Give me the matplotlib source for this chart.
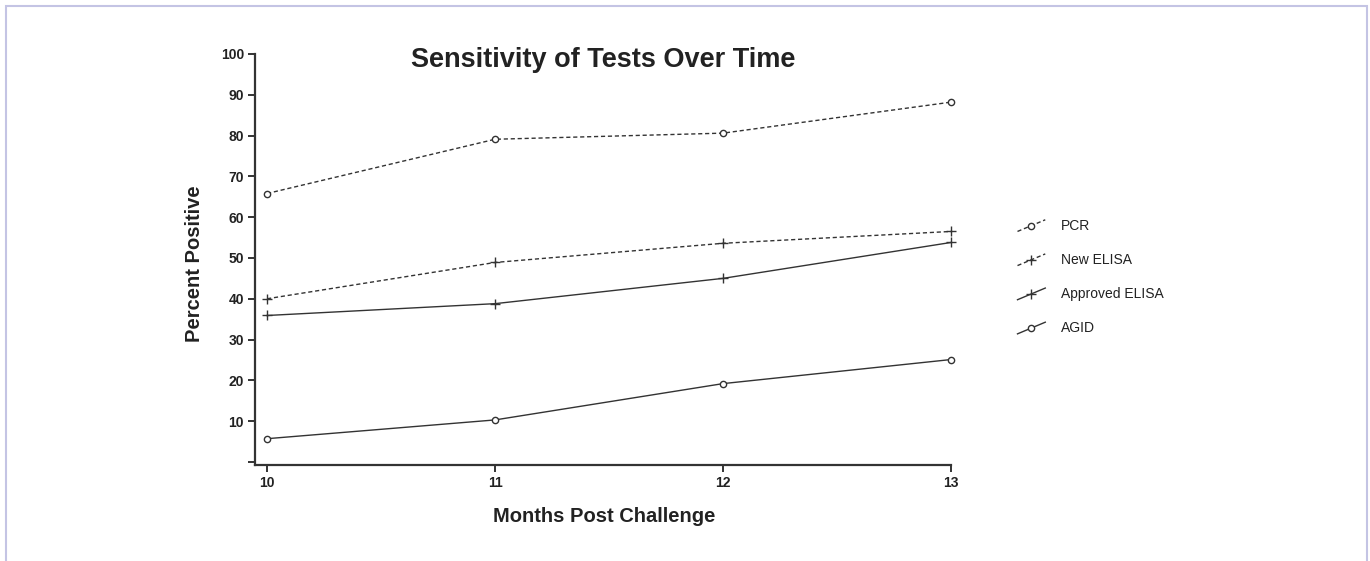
import matplotlib
matplotlib.use("Agg")
import matplotlib.pyplot as plt
from matplotlib.lines import Line2D
from matplotlib.legend_handler import HandlerLine2D
from matplotlib.patches import Rectangle

plt.rcParams['font.family'] = ['Liberation Sans', 'DejaVu Sans']

months = [10, 11, 12, 13]
pcr = [65.8, 79.1, 80.6, 88.2]
new_elisa = [40.0, 48.9, 53.6, 56.5]
approved_elisa = [35.9, 38.8, 45.0, 53.8]
agid = [5.7, 10.3, 19.2, 25.1]
series_names = ["PCR", "New ELISA", "Approved ELISA", "AGID"]
y_ticks = [0, 10, 20, 30, 40, 50, 60, 70, 80, 90, 100]
y_tick_labels = ["", "10", "20", "30", "40", "50", "60", "70", "80", "90", "100"]
x_ticks = [10, 11, 12, 13]

W, H = 1370, 561
fig = plt.figure(figsize=(W / 100, H / 100), dpi=100)
fig.patch.set_facecolor("white")

# light frame
fig.patches.append(Rectangle((6 / W, -0.05), (1367 - 6) / W, 1 - 6 / H + 0.05,
                             transform=fig.transFigure, fill=False,
                             edgecolor="#c4c4e4", linewidth=1.5, clip_on=False))

ax = fig.add_axes([255 / W, 1 - 465 / H, (951 - 255) / W, (465 - 54) / H])
col = "#333333"
styles = [
    (pcr, "--", "o"),
    (new_elisa, "--", "+"),
    (approved_elisa, "-", "+"),
    (agid, "-", "o"),
]
handles = []
for (vals, ls, mk), name in zip(styles, series_names):
    ms = 4.5 if mk == "o" else 6.5
    h, = ax.plot(months, vals, linestyle=ls, marker=mk, color=col, linewidth=1.0,
                 markersize=ms, markerfacecolor="white", markeredgecolor=col,
                 markeredgewidth=1.0, dashes=(3, 2) if ls == "--" else (None, None),
                 label=name, clip_on=False)
    handles.append(h)

ax.set_xlim(9.947, 13)
ax.set_ylim(-0.75, 100)
for s in ["top", "right"]:
    ax.spines[s].set_visible(False)
for s in ["left", "bottom"]:
    ax.spines[s].set_linewidth(1.6)
    ax.spines[s].set_color(col)
ax.spines["left"].set_bounds(-0.75, 100)
ax.spines["bottom"].set_bounds(9.947, 13)

ax.set_yticks(y_ticks)
ax.set_yticklabels(y_tick_labels)
ax.set_xticks(x_ticks)
ax.set_xticklabels([str(m) for m in x_ticks])
ax.tick_params(axis="both", direction="out", length=5, width=1.4, color=col,
               labelsize=10, labelcolor="#222222", pad=3)
for lab in ax.get_xticklabels() + ax.get_yticklabels():
    lab.set_fontweight("bold")

fig.text(603 / W, 1 - 60 / H, "Sensitivity of Tests Over Time", ha="center", va="center",
         fontsize=19.5, fontweight="bold", color="#222222")
fig.text(604 / W, 1 - 516 / H, "Months Post Challenge", ha="center", va="center",
         fontsize=14.5, fontweight="bold", color="#222222")
fig.text(194 / W, 1 - 264 / H, "Percent Positive", ha="center", va="center",
         rotation=90, fontsize=14.5, fontweight="bold", color="#222222")


class SlantHandler(HandlerLine2D):
    def create_artists(self, legend, orig_handle, xdescent, ydescent, width, height,
                       fontsize, trans):
        x0, x1 = -xdescent, -xdescent + width
        y0, y1 = -ydescent - 0.2 * height, -ydescent + 1.0 * height
        line = Line2D([x0, x1], [y0, y1])
        self.update_prop(line, orig_handle, legend)
        line.set_marker("")
        line.set_transform(trans)
        mk = Line2D([(x0 + x1) / 2], [(y0 + y1) / 2])
        self.update_prop(mk, orig_handle, legend)
        mk.set_linestyle("")
        mk.set_transform(trans)
        return [line, mk]


leg = fig.legend(handles, series_names, loc="upper left",
                 bbox_to_anchor=(1005 / W, 1 - 206 / H), frameon=False,
                 handler_map={Line2D: SlantHandler()}, handlelength=2.0,
                 handletextpad=1.1, labelspacing=1.45, fontsize=10)
for t in leg.get_texts():
    t.set_color("#222222")

fig.savefig("out.png", dpi=100, facecolor="white")
